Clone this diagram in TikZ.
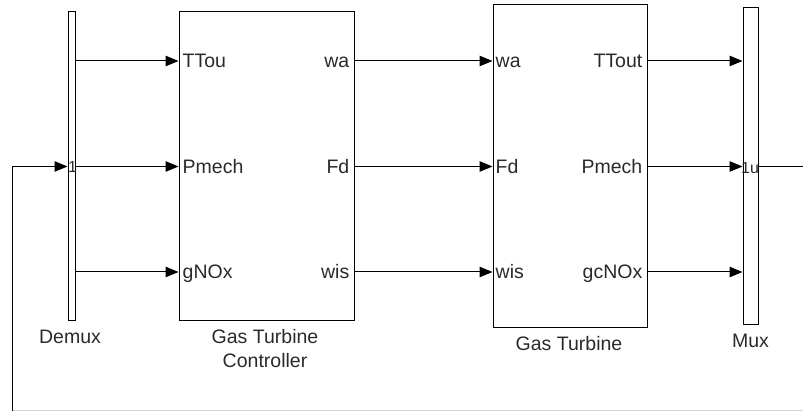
\documentclass[tikz,border=0pt]{standalone}
\usepackage{fontspec}
\setmainfont{Liberation Sans}
\usetikzlibrary{arrows.meta,positioning,calc}
\definecolor{Ink}{HTML}{000000}
\definecolor{Label}{HTML}{2A2A2A}
\definecolor{Rim}{HTML}{D4D4D4}
\tikzset{
  block/.style={draw=Ink,fill=white,line width=1pt,inner sep=0pt},
  bar/.style={draw=Ink,fill=white,line width=1pt,inner sep=0pt},
  port/.style={font=\fontsize{19.5}{22}\selectfont,text=Label,inner sep=0pt},
  caption/.style={font=\fontsize{19.5}{23.5}\selectfont,text=Label,align=center,inner sep=0pt},
  tiny/.style={font=\fontsize{16}{16}\selectfont,text=Label,inner sep=0pt},
  sig/.style={-{Triangle[length=13pt,width=10.5pt]},draw=Ink,line width=1pt},
  wire/.style={draw=Ink,line width=1pt}
}

\begin{document}
\begin{tikzpicture}[x=1pt,y=1pt]
  \useasboundingbox (0,0) rectangle (803,412);
  % signal rows
  \coordinate (r1) at (0,351);
  \coordinate (r2) at (0,245.5);
  \coordinate (r3) at (0,140);
  \coordinate (fb) at (12,1);
  \coordinate (rim) at (803,1);
  \coordinate (out) at (803,245.5);

  % blocks
  \node[bar,minimum width=7pt,minimum height=309pt] (demux) at (71.5,245.5) {};
  \node[block,minimum width=175pt,minimum height=309pt] (gtc) at (266.5,245.5) {};
  \node[block,minimum width=154pt,minimum height=323pt] (gt) at (570,245.5) {};
  \node[bar,minimum width=15pt,minimum height=317pt] (mux) at (750.5,245.5) {};

  \node[tiny] (dmxone) at ($(demux.center |- r2)+(1,-0.5)$) {1};
  \node[tiny] (muxone) at ($(mux.center |- r2)+(-0.5,-2)$) {1u};

  % captions
  \node[caption,anchor=north] (dmxcap) at ($(demux.south)+(-1.5,-8)$) {Demux};
  \node[caption,anchor=north] (gtccap) at ($(gtc.south)+(-1.5,-8)$) {Gas Turbine\\Controller};
  \node[caption,anchor=north] (gtcap) at ($(gt.south)+(-1,-8)$) {Gas Turbine};
  \node[caption,anchor=north] (muxcap) at ($(mux.south)+(0,-8)$) {Mux};

  % port labels
  \node[port,anchor=base west] (cttou) at ($(gtc.west |- r1)+(4,-7)$) {TTou};
  \node[port,anchor=base west] (cpmech) at ($(gtc.west |- r2)+(4,-7)$) {Pmech};
  \node[port,anchor=base west] (cgnox) at ($(gtc.west |- r3)+(4,-7)$) {gNOx};
  \node[port,anchor=base east] (cwa) at ($(gtc.east |- r1)+(-5,-7)$) {wa};
  \node[port,anchor=base east] (cfd) at ($(gtc.east |- r2)+(-5,-7)$) {Fd};
  \node[port,anchor=base east] (cwis) at ($(gtc.east |- r3)+(-5,-7)$) {wis};
  \node[port,anchor=base west] (twa) at ($(gt.west |- r1)+(3,-7)$) {wa};
  \node[port,anchor=base west] (tfd) at ($(gt.west |- r2)+(3,-7)$) {Fd};
  \node[port,anchor=base west] (twis) at ($(gt.west |- r3)+(3,-7)$) {wis};
  \node[port,anchor=base east] (tttout) at ($(gt.east |- r1)+(-5,-7)$) {TTout};
  \node[port,anchor=base east] (tpmech) at ($(gt.east |- r2)+(-5,-7)$) {Pmech};
  \node[port,anchor=base east] (tgcnox) at ($(gt.east |- r3)+(-5,-7)$) {gcNOx};

  % connectors
  \draw[Rim,line width=1pt] (fb) -- (rim);
  \draw[sig] (fb) |- (demux.west |- r2);
  \draw[sig] (demux.east |- r1) -- (gtc.west |- r1);
  \draw[sig] (demux.east |- r2) -- (gtc.west |- r2);
  \draw[sig] (demux.east |- r3) -- (gtc.west |- r3);
  \draw[sig] (gtc.east |- r1) -- (gt.west |- r1);
  \draw[sig] (gtc.east |- r2) -- (gt.west |- r2);
  \draw[sig] (gtc.east |- r3) -- (gt.west |- r3);
  \draw[sig] (gt.east |- r1) -- (mux.west |- r1);
  \draw[sig] (gt.east |- r2) -- (mux.west |- r2);
  \draw[sig] (gt.east |- r3) -- (mux.west |- r3);
  \draw[wire] (mux.east |- r2) -- (out);
\end{tikzpicture}
\end{document}
